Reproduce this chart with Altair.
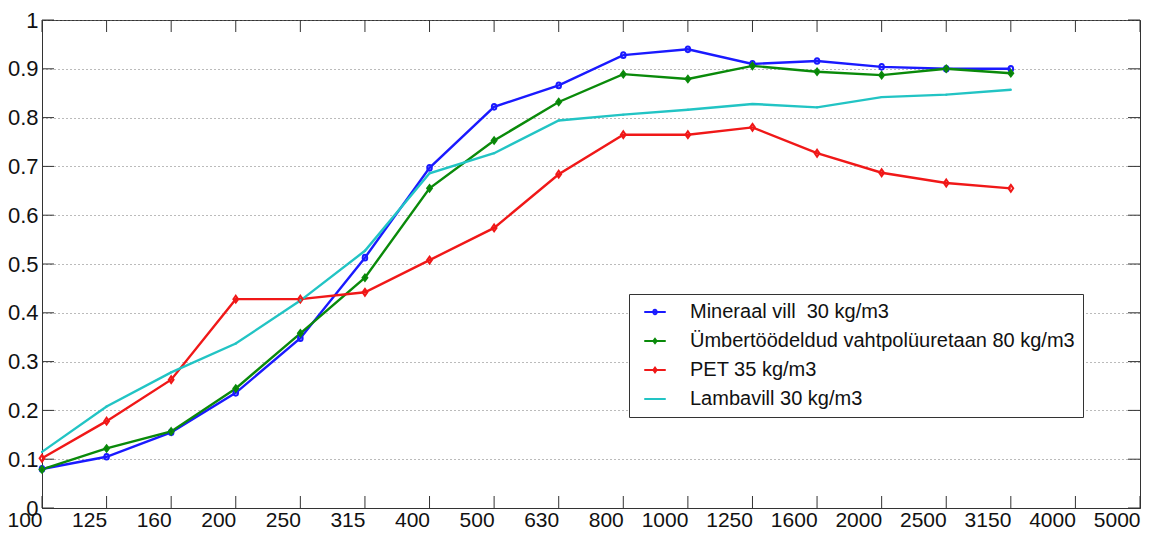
import altair as alt
import pandas as pd

freq_labels = ["100", "125", "160", "200", "250", "315", "400", "500", "630", "800",
               "1000", "1250", "1600", "2000", "2500", "3150", "4000", "5000"]
data_freqs = freq_labels[:16]

series_names = ["Mineraal vill\u00a0 30 kg/m3",
                "Ümbertöödeldud vahtpolüuretaan 80 kg/m3",
                "PET 35 kg/m3",
                "Lambavill 30 kg/m3"]

mineraal = [0.08, 0.105, 0.155, 0.236, 0.348, 0.513, 0.697, 0.822, 0.866, 0.928,
            0.940, 0.910, 0.916, 0.904, 0.900, 0.900]
umber = [0.079, 0.122, 0.157, 0.245, 0.358, 0.472, 0.655, 0.753, 0.832, 0.889,
         0.879, 0.906, 0.894, 0.887, 0.900, 0.891]
pet = [0.102, 0.178, 0.263, 0.428, 0.428, 0.442, 0.508, 0.574, 0.684, 0.765,
       0.765, 0.780, 0.727, 0.687, 0.666, 0.655]
lamba = [0.115, 0.208, 0.278, 0.337, 0.425, 0.527, 0.686, 0.727, 0.794, 0.806,
         0.816, 0.828, 0.821, 0.842, 0.847, 0.857]

colors = ["#1a1aff", "#0a8a0a", "#f01818", "#22c4c4"]
fills = ["transparent", "#0a7a0a", "transparent", "transparent"]
marker_paths = [
    "M0.4,0A0.4,0.5 0 1,1 -0.4,0A0.4,0.5 0 1,1 0.4,0Z",
    "M0,-0.55L0.42,0L0,0.55L-0.42,0Z",
    "M0,-0.6L0.42,0L0,0.6L-0.42,0Z",
    "M-0.15,0H0.15M0,-0.15V0.15",
]
legend_paths = [
    "M-2.15,0H2.15M0.35,0A0.35,0.45 0 1,1 -0.35,0A0.35,0.45 0 1,1 0.35,0Z",
    "M-2.15,0H2.15M0,-0.45L0.35,0L0,0.45L-0.35,0Z",
    "M-2.15,0H2.15M0,-0.5L0.35,0L0,0.5L-0.35,0Z",
    "M-2.15,0H2.15M0,-0.1V0.1",
]
y_ticks = [0, 0.1, 0.2, 0.3, 0.4, 0.5, 0.6, 0.7, 0.8, 0.9, 1.0]

FONT = "Liberation Sans, Arial, sans-serif"
W, H = 1098, 488

rows = []
for name, vals in zip(series_names, [mineraal, umber, pet, lamba]):
    for i, (f, v) in enumerate(zip(data_freqs, vals)):
        rows.append({"freq": f, "v": v, "series": name, "idx": i})
df = pd.DataFrame(rows)
ticks_x = pd.DataFrame({"freq": freq_labels})
ticks_y = pd.DataFrame({"v": y_ticks})

xscale = alt.Scale(type="point", domain=freq_labels, padding=0)
yscale = alt.Scale(domain=[0, 1], nice=False)

x_enc = alt.X("freq:O", scale=xscale, sort=freq_labels,
              axis=alt.Axis(title=None, ticks=False, grid=False, labelAngle=0,
                            labelFontSize=21, labelFont=FONT, labelColor="#111",
                            labelPadding=12, domainColor="#333"))
y_enc = alt.Y("v:Q", scale=yscale,
              axis=alt.Axis(title=None, ticks=False, values=y_ticks, format="~g",
                            grid=True, gridDash=[1, 3], gridColor="#777",
                            labelFontSize=22, labelFont=FONT, labelColor="#111",
                            labelPadding=4, domainColor="#333"))

base = alt.Chart(df)

lines = base.mark_line(strokeWidth=2.4).encode(
    x=x_enc, y=y_enc,
    color=alt.Color("series:N", scale=alt.Scale(domain=series_names, range=colors), legend=None),
    order=alt.Order("idx:Q"),
)

points = base.mark_point(size=130, opacity=1, strokeWidth=2, filled=False).encode(
    x=x_enc, y=y_enc,
    shape=alt.Shape("series:N", scale=alt.Scale(domain=series_names, range=marker_paths), legend=None),
    stroke=alt.Stroke("series:N", scale=alt.Scale(domain=series_names, range=colors), legend=None),
    fill=alt.Fill("series:N", scale=alt.Scale(domain=series_names, range=fills), legend=None),
)

leg = alt.Legend(title=None, orient="none", legendX=587, legendY=274, direction="vertical",
                 fillColor="white", strokeColor="#333", padding=8,
                 labelFont=FONT, labelFontSize=20, labelColor="#111", labelLimit=0,
                 symbolSize=100, symbolOffset=8, labelOffset=25, rowPadding=9,
                 symbolStrokeWidth=1.8, symbolOpacity=1)

legend_layer = base.transform_filter("datum.v < -1").mark_point(size=100, opacity=1, filled=False).encode(
    x=x_enc, y=y_enc,
    shape=alt.Shape("series:N", scale=alt.Scale(domain=series_names, range=legend_paths), legend=leg),
    stroke=alt.Stroke("series:N", scale=alt.Scale(domain=series_names, range=colors), legend=leg),
    fill=alt.Fill("series:N", scale=alt.Scale(domain=series_names, range=fills), legend=leg),
)

tick_len = 12
bottom_ticks = alt.Chart(ticks_x).mark_rule(color="#333", strokeWidth=1).encode(
    x=alt.X("freq:O", scale=xscale, sort=freq_labels),
    y=alt.value(H), y2=alt.value(H - tick_len))
top_ticks = alt.Chart(ticks_x).mark_rule(color="#333", strokeWidth=1).encode(
    x=alt.X("freq:O", scale=xscale, sort=freq_labels),
    y=alt.value(0), y2=alt.value(tick_len))
left_ticks = alt.Chart(ticks_y).mark_rule(color="#333", strokeWidth=1).encode(
    y=alt.Y("v:Q", scale=yscale), x=alt.value(0), x2=alt.value(tick_len))
right_ticks = alt.Chart(ticks_y).mark_rule(color="#333", strokeWidth=1).encode(
    y=alt.Y("v:Q", scale=yscale), x=alt.value(W), x2=alt.value(W - tick_len))

chart = alt.layer(bottom_ticks, top_ticks, left_ticks, right_ticks,
                  lines, points, legend_layer).resolve_scale(
    shape="independent", stroke="independent", fill="independent"
).properties(
    width=W, height=H,
    autosize=alt.AutoSizeParams(type="none"),
    padding={"left": 34, "top": 12, "right": 20, "bottom": 34},
    background="white",
).configure_view(stroke="#333", strokeWidth=1)

chart.save("out.html", embed_options={"renderer": "svg", "actions": False})
